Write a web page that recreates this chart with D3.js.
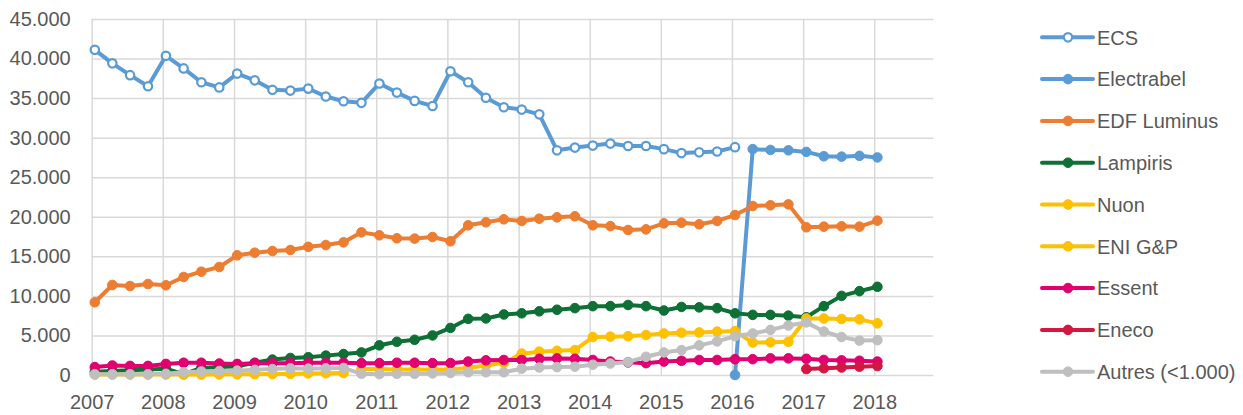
<!DOCTYPE html>
<html>
<head>
<meta charset="utf-8">
<script src="https://cdn.jsdelivr.net/npm/d3@7"></script>
<style>
  html, body { margin: 0; padding: 0; background: #ffffff; }
  svg { display: block; }
</style>
</head>
<body>
<svg id="chart" width="1243" height="415"></svg>
<script>
// ---------- DATA ----------
const periods = [
  "2007-01","2007-04","2007-07","2007-10",
  "2008-01","2008-04","2008-07","2008-10",
  "2009-01","2009-04","2009-07","2009-10",
  "2010-01","2010-04","2010-07","2010-10",
  "2011-01","2011-04","2011-07","2011-10",
  "2012-01","2012-04","2012-07","2012-10",
  "2013-01","2013-04","2013-07","2013-10",
  "2014-01","2014-04","2014-07","2014-10",
  "2015-01","2015-04","2015-07","2015-10",
  "2016-01","2016-04","2016-07","2016-10",
  "2017-01","2017-04","2017-07","2017-10",
  "2018-01"
];

const seriesNames = ["ECS","Electrabel","EDF Luminus","Lampiris","Nuon","ENI G&P","Essent","Eneco","Autres (<1.000)"];

const ecs = [
  41100, 39400, 37900, 36500,
  40350, 38750, 37000, 36350,
  38100, 37250, 36050, 35950,
  36200, 35200, 34600, 34400,
  36850, 35700, 34650, 34000,
  38400, 37000, 35050, 33850,
  33550, 32950, 28400, 28750,
  29000, 29250, 28950, 28950,
  28550, 28050, 28150, 28250,
  28800, null, null, null,
  null, null, null, null,
  null
];
const electrabel = [
  null, null, null, null,
  null, null, null, null,
  null, null, null, null,
  null, null, null, null,
  null, null, null, null,
  null, null, null, null,
  null, null, null, null,
  null, null, null, null,
  null, null, null, null,
  0, 28550, 28450, 28400,
  28200, 27650, 27600, 27700,
  27500
];
const edfLuminus = [
  9190, 11380, 11250, 11500,
  11340, 12390, 13060, 13650,
  15130, 15460, 15670, 15800,
  16200, 16430, 16770, 18030,
  17660, 17280, 17240, 17440,
  16900, 18920, 19300, 19680,
  19470, 19760, 19930, 20060,
  18920, 18820, 18330, 18410,
  19170, 19250, 19050, 19470,
  20220, 21360, 21450, 21570,
  18670, 18750, 18790, 18750,
  19510
];
const lampiris = [
  400, 500, 600, 700,
  800, 100, 900, 1000,
  1100, 1550, 1950, 2150,
  2250, 2450, 2650, 2850,
  3750, 4200, 4450, 5000,
  5950, 7100, 7150, 7650,
  7800, 8050, 8250, 8450,
  8700, 8700, 8850, 8700,
  8150, 8600, 8550, 8450,
  7800, 7600, 7600, 7500,
  7300, 8700, 10000, 10600,
  11150
];
const nuon = [
  50, 50, 50, 50,
  50, 50, 60, 70,
  80, 100, 120, 150,
  200, 220, 250, null,
  null, null, null, null,
  null, null, null, null,
  null, null, null, null,
  null, null, null, null,
  null, null, null, null,
  null, null, null, null,
  null, null, null, null,
  null
];
const eniGP = [
  null, null, null, null,
  null, null, null, null,
  null, null, null, null,
  null, null, null, 750,
  750, 700, 700, 700,
  700, 900, 1200, 1550,
  2700, 2950, 3050, 3150,
  4800, 4850, 4900, 5050,
  5250, 5350, 5380, 5480,
  5550, 4100, 4130, 4200,
  7150, 7150, 7080, 7030,
  6530
];
const essent = [
  1000, 1200, 1150, 1150,
  1400, 1550, 1550, 1450,
  1400, 1500, 1500, 1500,
  1550, 1550, 1550, 1500,
  1500, 1550, 1550, 1500,
  1500, 1700, 1850, 1900,
  1900, 2050, 2100, 2050,
  1900, 1700, 1600, 1500,
  1700, 1800, 1900, 1900,
  2000, 2000, 2100, 2100,
  2050, 1900, 1850, 1800,
  1700
];
const eneco = [
  null, null, null, null,
  null, null, null, null,
  null, null, null, null,
  null, null, null, null,
  null, null, null, null,
  null, null, null, null,
  null, null, null, null,
  null, null, null, null,
  null, null, null, null,
  null, null, null, null,
  750, 850, 950, 1050,
  1130
];
const autres = [
  100, 100, 100, 100,
  150, 350, 450, 500,
  550, 650, 750, 850,
  800, 850, 900, 150,
  100, 150, 150, 200,
  250, 350, 350, 350,
  800, 950, 1000, 1050,
  1300, 1450, 1650, 2300,
  2850, 3150, 3750, 4250,
  4900, 5250, 5700, 6250,
  6650, 5500, 4800, 4350,
  4400
];

const yTickValues = [0, 5000, 10000, 15000, 20000, 25000, 30000, 35000, 40000, 45000];
const xTickYears = [2007, 2008, 2009, 2010, 2011, 2012, 2013, 2014, 2015, 2016, 2017, 2018];

// ---------- STYLE ----------
const colors = ["#5B9BD5","#5B9BD5","#ED7D31","#0E7035","#FFC000","#FFC000","#E0006F","#D41642","#BFBFBF"];
const openMarker = [true,false,false,false,false,false,false,false,false];
const allValues = [ecs, electrabel, edfLuminus, lampiris, nuon, eniGP, essent, eneco, autres];

const series = seriesNames.map((name, i) => ({
  name, color: colors[i], open: openMarker[i],
  points: periods.map((p, j) => ({ date: p, value: allValues[i][j] }))
}));

const textColor = "#595959";
const gridColor = "#D9D9D9";
const fontFamily = "'Liberation Sans', Arial, sans-serif";
const fontSize = 20;

const plotLeft = 91.7, plotRight = 933.3, plotTop = 19, plotBottom = 375;

const parseP = d3.timeParse("%Y-%m-%d");
const pointDate = p => parseP(p + "-17");

const x = d3.scaleTime()
  .domain([new Date(2007, 0, 1), new Date(2018, 9, 31)])
  .range([plotLeft, plotRight]);
const y = d3.scaleLinear().domain([0, 45000]).range([plotBottom, plotTop]);

const locale = d3.formatLocale({ decimal: ",", thousands: ".", grouping: [3], currency: ["", " €"] });
const fmt = locale.format(",");

const svg = d3.select("#chart");

// Y axis + horizontal gridlines
const yAxis = svg.append("g")
  .attr("transform", `translate(${plotLeft},0)`)
  .call(d3.axisLeft(y).tickValues(yTickValues).tickFormat(fmt)
    .tickSize(-(plotRight - plotLeft)).tickPadding(21));
yAxis.select(".domain").remove();
yAxis.selectAll(".tick line").attr("stroke", gridColor).attr("stroke-width", 1.5);
yAxis.selectAll(".tick text")
  .attr("fill", textColor).style("font-family", fontFamily).style("font-size", fontSize + "px");

// X axis + vertical gridlines
const xAxis = svg.append("g")
  .attr("transform", `translate(0,${plotBottom})`)
  .call(d3.axisBottom(x).tickValues(xTickYears.map(yy => new Date(yy, 0, 1)))
    .tickFormat(d3.timeFormat("%Y"))
    .tickSize(-(plotBottom - plotTop)).tickPadding(20));
xAxis.select(".domain").remove();
xAxis.selectAll(".tick line").attr("stroke", gridColor).attr("stroke-width", 1.5);
xAxis.selectAll(".tick text")
  .attr("fill", textColor).style("font-family", fontFamily).style("font-size", fontSize + "px");

// Series
const line = d3.line()
  .defined(d => d.value !== null)
  .x(d => x(pointDate(d.date)))
  .y(d => y(d.value));

const lineWidth = 4;
const rFilled = 4.8;
const rOpen = 4.2;

series.forEach(s => {
  const g = svg.append("g").attr("class", "series");
  g.append("path")
    .datum(s.points)
    .attr("fill", "none")
    .attr("stroke", s.color)
    .attr("stroke-width", lineWidth)
    .attr("stroke-linejoin", "round")
    .attr("stroke-linecap", "round")
    .attr("d", line);
  g.selectAll("circle")
    .data(s.points.filter(d => d.value !== null))
    .join("circle")
    .attr("cx", d => x(pointDate(d.date)))
    .attr("cy", d => y(d.value))
    .attr("r", s.open ? rOpen : rFilled)
    .attr("fill", s.open ? "#ffffff" : s.color)
    .attr("stroke", s.color)
    .attr("stroke-width", s.open ? 2.25 : 1);
});

// Legend
const legendX1 = 1042, legendX2 = 1093, legendMarkX = 1068, legendTextX = 1097;
const legendTop = 37.3, legendStep = 41.8;
const legend = svg.append("g").attr("class", "legend");
series.forEach((s, i) => {
  const cy = legendTop + i * legendStep;
  const g = legend.append("g");
  g.append("line")
    .attr("x1", legendX1).attr("x2", legendX2).attr("y1", cy).attr("y2", cy)
    .attr("stroke", s.color).attr("stroke-width", lineWidth).attr("stroke-linecap", "round");
  g.append("circle")
    .attr("cx", legendMarkX).attr("cy", cy)
    .attr("r", s.open ? rOpen : rFilled)
    .attr("fill", s.open ? "#ffffff" : s.color)
    .attr("stroke", s.color)
    .attr("stroke-width", s.open ? 2.25 : 1);
  g.append("text")
    .attr("x", legendTextX).attr("y", cy).attr("dy", "0.36em")
    .attr("fill", textColor)
    .style("font-family", fontFamily).style("font-size", fontSize + "px")
    .text(s.name);
});
</script>
</body>
</html>
